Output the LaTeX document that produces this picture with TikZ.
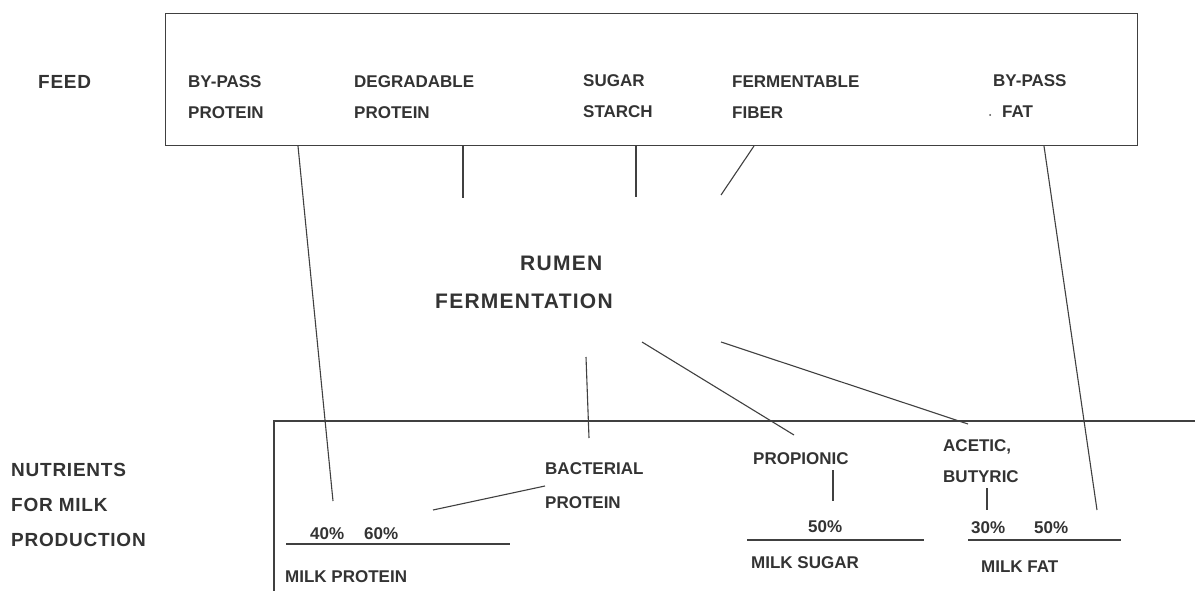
\documentclass[tikz,border=0pt]{standalone}
\usepackage{fontspec}
\setmainfont{Liberation Sans}
\begin{document}
\begin{tikzpicture}[x=1pt,y=-1pt,
  txt/.style={anchor=west,inner sep=0pt,text height=12.2pt,text depth=0pt,text=black!80,font=\fontsize{17}{17}\selectfont\bfseries},
  bigtxt/.style={anchor=west,inner sep=0pt,text height=13.6pt,text depth=0pt,text=black!80,font=\fontsize{19}{19}\selectfont\addfontfeature{LetterSpace=4}\bfseries},
  rumtxt/.style={anchor=west,inner sep=0pt,text height=15pt,text depth=0pt,text=black!80,font=\fontsize{21}{21}\selectfont\addfontfeature{LetterSpace=6}\bfseries},
  ln/.style={draw=black!75,line width=1.1pt},
  boxln/.style={draw=black!75,line width=1.3pt}]
\useasboundingbox (0,0) rectangle (1195,591);
\fill[white] (0,0) rectangle (1195,591);
% feed box
\node[boxln,anchor=north west,minimum width=972pt,minimum height=132pt,inner sep=0pt] (feedbox) at (165,13) {};
% nutrients box (open)
\coordinate (nbR) at (1195,421);
\coordinate (nbC) at (274,421);
\coordinate (nbB) at (274,591);
\draw[boxln] (nbR) -- (nbC) -- (nbB);
% labels left
\node[bigtxt] (feed) at (38,82) {FEED};
\node[bigtxt] (nut1) at (11,470) {NUTRIENTS};
\node[bigtxt] (nut2) at (11,505) {FOR MILK};
\node[bigtxt] (nut3) at (11,540) {PRODUCTION};
% feed items
\node[txt] (bp1) at (188,81) {BY-PASS};
\node[txt] (bp2) at (188,112) {PROTEIN};
\node[txt] (dp1) at (354,81) {DEGRADABLE};
\node[txt] (dp2) at (354,112) {PROTEIN};
\node[txt] (ss1) at (583,80) {SUGAR};
\node[txt] (ss2) at (583,111) {STARCH};
\node[txt] (ff1) at (732,81) {FERMENTABLE};
\node[txt] (ff2) at (732,112) {FIBER};
\node[txt] (bf1) at (993,80) {BY-PASS};
\node[txt] (bf2) at (1002,111) {FAT};
\node[circle,fill=black!70,inner sep=0pt,minimum size=2pt] (dot) at (990,115) {};
% rumen
\node[rumtxt] (rum1) at (520,263) {RUMEN};
\node[rumtxt] (rum2) at (435,301) {FERMENTATION};
% nutrients
\node[txt] (bac1) at (545,468) {BACTERIAL};
\node[txt] (bac2) at (545,502) {PROTEIN};
\node[txt] (p40) at (310,533) {40\%};
\node[txt] (p60) at (364,533) {60\%};
\node[txt] (mp) at (285,576) {MILK PROTEIN};
\node[txt] (prop) at (753,458) {PROPIONIC};
\node[txt] (p50a) at (808,526) {50\%};
\node[txt] (ms) at (751,562) {MILK SUGAR};
\node[txt] (ac1) at (943,445) {ACETIC,};
\node[txt] (ac2) at (943,476) {BUTYRIC};
\node[txt] (p30) at (971,527) {30\%};
\node[txt] (p50b) at (1034,527) {50\%};
\node[txt] (mf) at (981,566) {MILK FAT};
% connector end points
\coordinate (a1) at (298,146);
\coordinate (a2) at (333,501);
\coordinate (b1) at (463,146);
\coordinate (b2) at (463,198);
\coordinate (c1) at (636,146);
\coordinate (c2) at (636,197);
\coordinate (d1) at (754,146);
\coordinate (d2) at (721,195);
\coordinate (e1) at (1044,146);
\coordinate (e2) at (1097,510);
\coordinate (f1) at (586,357);
\coordinate (f2) at (589,438);
\coordinate (g1) at (642,342);
\coordinate (g2) at (794,435);
\coordinate (h1) at (721,342);
\coordinate (h2) at (968,424);
\coordinate (i1) at (433,510);
\coordinate (i2) at (545,486);
\coordinate (j1) at (833,470);
\coordinate (j2) at (833,501);
\coordinate (k1) at (987,488);
\coordinate (k2) at (987,510);
\coordinate (u1) at (286,544);
\coordinate (u2) at (510,544);
\coordinate (v1) at (747,540);
\coordinate (v2) at (924,540);
\coordinate (w1) at (968,540);
\coordinate (w2) at (1121,540);
\draw[ln] (a1) -- (a2);
\draw[ln] (b1) -- (b2);
\draw[ln] (c1) -- (c2);
\draw[ln] (d1) -- (d2);
\draw[ln] (e1) -- (e2);
\draw[ln] (f1) -- (f2);
\draw[ln] (g1) -- (g2);
\draw[ln] (h1) -- (h2);
\draw[ln] (i1) -- (i2);
\draw[ln] (j1) -- (j2);
\draw[ln] (k1) -- (k2);
\draw[ln] (u1) -- (u2);
\draw[ln] (v1) -- (v2);
\draw[ln] (w1) -- (w2);
\end{tikzpicture}
\end{document}
